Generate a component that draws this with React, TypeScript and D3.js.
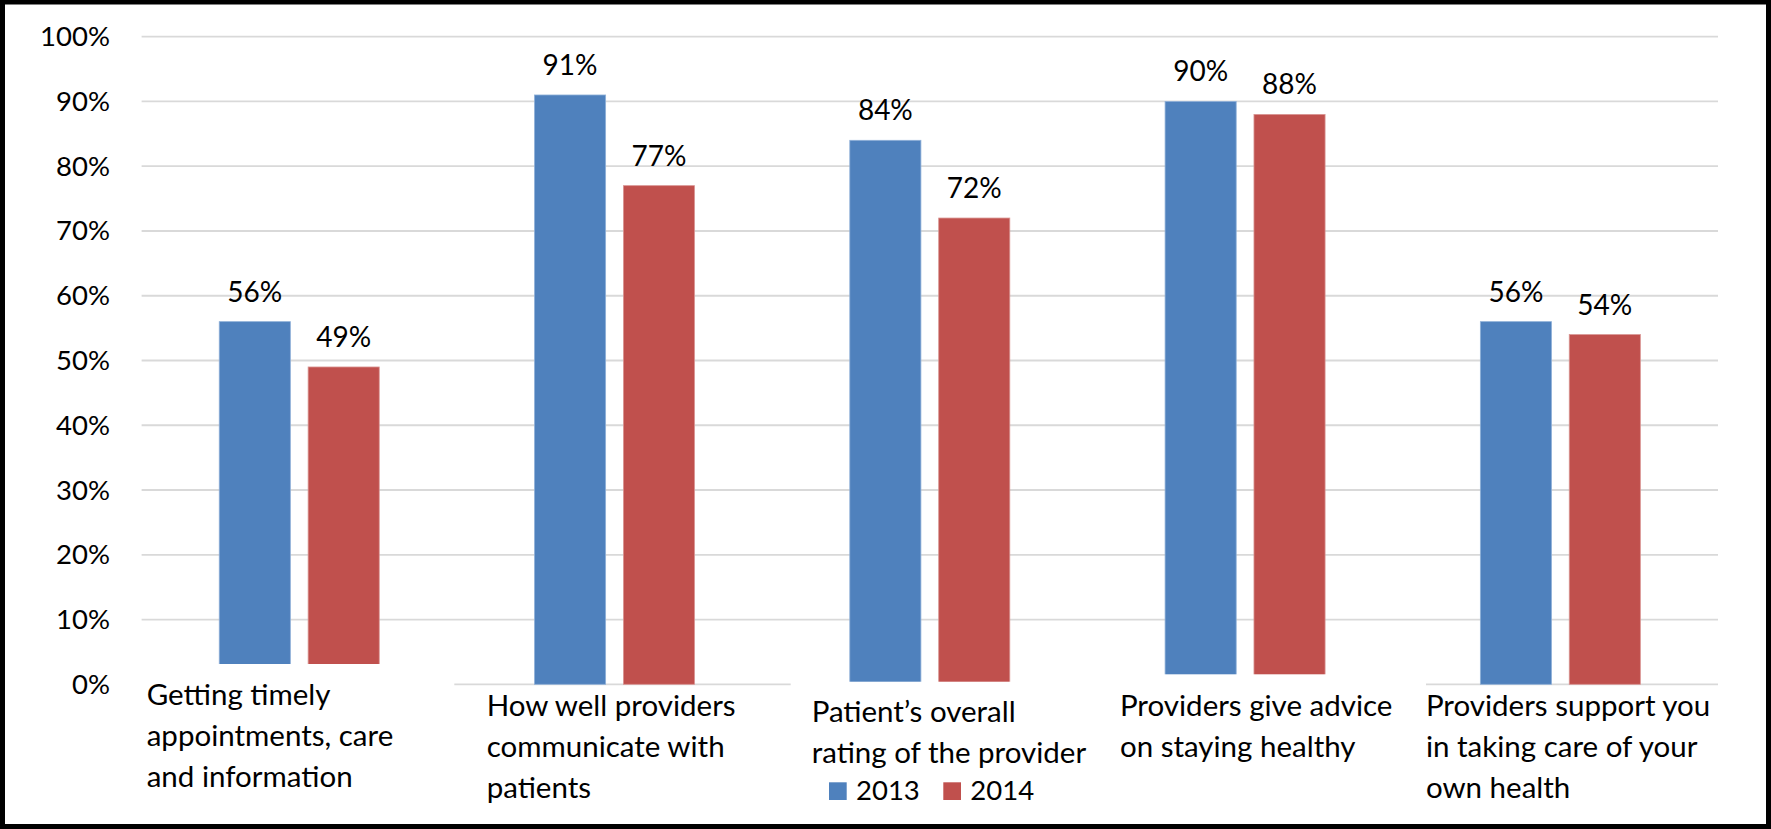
import React from "react";
import * as d3 from "d3";

// ---- data ----
const categoryLines: string[][] = [
  ["Getting timely", "appointments, care", "and information"],
  ["How well providers", "communicate with", "patients"],
  ["Patient\u2019s overall", "rating of the provider"],
  ["Providers give advice", "on staying healthy"],
  ["Providers support you", "in taking care of your", "own health"],
];
const categories = categoryLines.map((l) => l.join(" "));
const seriesNames = ["2013", "2014"];
const values2013 = [56, 91, 84, 90, 56];
const values2014 = [49, 77, 72, 88, 54];
const yTicks = [0, 10, 20, 30, 40, 50, 60, 70, 80, 90, 100];

// ---- layout / style ----
const W = 1771;
const H = 829;
const colors: Record<string, string> = { "2013": "#4F81BD", "2014": "#C0504D" };
const strokes: Record<string, string> = { "2013": "#8FB0D8", "2014": "#D99593" };
const NUM_FONT = "Lato, 'Open Sans', sans-serif";
const LABEL_FONT = "Lato, 'Open Sans', sans-serif";

// category label text boxes (white-filled, overlaying the chart bottom)
// boxTop: offset from the 0% line; boxL/boxR: absolute box edges; tx: text offset from band start; ty: first baseline offset from 0% line
const labelBoxes = [
  { boxTop: -20.3, boxL: 141, boxR: 454.3, tx: 5.1, ty: 20.7 },
  { boxTop: 1.8, boxL: 454.3, boxR: 790.7, tx: 29.8, ty: 31.4 },
  { boxTop: -2.6, boxL: 790.7, boxR: 1100, tx: 39.5, ty: 38 },
  { boxTop: -10, boxL: 1100, boxR: 1426, tx: 32.5, ty: 31.4 },
  { boxTop: 1.8, boxL: 1426, boxR: 1719, tx: 23.2, ty: 31.4 },
];

export default function App() {
  const plotL = 141.6;
  const plotR = 1718;
  const y = d3.scaleLinear().domain([0, 100]).range([684.3, 36.7]);
  const x0 = d3.scaleBand<string>().domain(categories).range([plotL, plotR]).padding(0);
  const groupW = 160;
  const bw0 = x0.bandwidth();
  const x1 = d3
    .scaleBand<string>()
    .domain(seriesNames)
    .range([(bw0 - groupW) / 2, (bw0 + groupW) / 2])
    .paddingInner(0.2)
    .paddingOuter(0);

  const seriesValues: Record<string, number[]> = { "2013": values2013, "2014": values2014 };
  const lineH = 41;

  return (
    <svg
      width={W}
      height={H}
      style={{ position: "absolute", left: 0, top: 0, background: "#fff" }}
    >
      <rect x={0} y={0} width={W} height={H} fill="#fff" />
      {/* gridlines */}
      {yTicks.map((t) => (
        <line
          key={"g" + t}
          x1={plotL}
          x2={plotR}
          y1={y(t)}
          y2={y(t)}
          stroke="#D9D9D9"
          strokeWidth={1.8}
        />
      ))}
      {/* y tick labels */}
      {yTicks.map((t) => (
        <text
          key={"t" + t}
          x={110}
          y={y(t) + 9.5}
          textAnchor="end"
          fontFamily={NUM_FONT}
          fontSize={27.5}
          fill="#000"
        >
          {t + "%"}
        </text>
      ))}
      {/* bars */}
      {categories.map((c, i) =>
        seriesNames.map((s) => {
          const v = seriesValues[s][i];
          const bx = (x0(c) as number) + (x1(s) as number);
          return (
            <rect
              key={c + s}
              x={bx}
              y={y(v)}
              width={x1.bandwidth()}
              height={y(0) - y(v)}
              fill={colors[s]}
              stroke={strokes[s]}
              strokeWidth={0.8}
            />
          );
        })
      )}
      {/* data labels */}
      {categories.map((c, i) =>
        seriesNames.map((s) => {
          const v = seriesValues[s][i];
          const cx = (x0(c) as number) + (x1(s) as number) + x1.bandwidth() / 2;
          return (
            <text
              key={"l" + c + s}
              x={cx}
              y={y(v) - 20}
              textAnchor="middle"
              fontFamily={NUM_FONT}
              fontSize={28}
              fill="#000"
            >
              {v + "%"}
            </text>
          );
        })
      )}
      {/* category label boxes */}
      {categories.map((c, i) => {
        const b = labelBoxes[i];
        return (
          <rect
            key={"b" + c}
            x={b.boxL}
            y={y(0) + b.boxTop}
            width={b.boxR - b.boxL}
            height={H - (y(0) + b.boxTop)}
            fill="#fff"
          />
        );
      })}
      {categories.map((c, i) => {
        const b = labelBoxes[i];
        const tx = (x0(c) as number) + b.tx;
        return (
          <text
            key={"c" + c}
            fontFamily={LABEL_FONT}
            fontSize={29.5}
            fill="#000"
          >
            {categoryLines[i].map((ln, j) => (
              <tspan key={j} x={tx} y={y(0) + b.ty + j * lineH}>
                {ln}
              </tspan>
            ))}
          </text>
        );
      })}
      {/* legend */}
      {seriesNames.map((s, k) => {
        const lx = 829 + k * 114.3;
        return (
          <g key={"lg" + s}>
            <rect x={lx} y={782.3} width={17.7} height={17.7} fill={colors[s]} />
            <text
              x={lx + 27}
              y={800}
              fontFamily={NUM_FONT}
              fontSize={27.5}
              fill="#000"
            >
              {s}
            </text>
          </g>
        );
      })}
      {/* frame */}
      <rect
        x={2.5}
        y={2}
        width={W - 5}
        height={H - 4.5}
        fill="none"
        stroke="#000"
        strokeWidth={5}
      />
    </svg>
  );
}
